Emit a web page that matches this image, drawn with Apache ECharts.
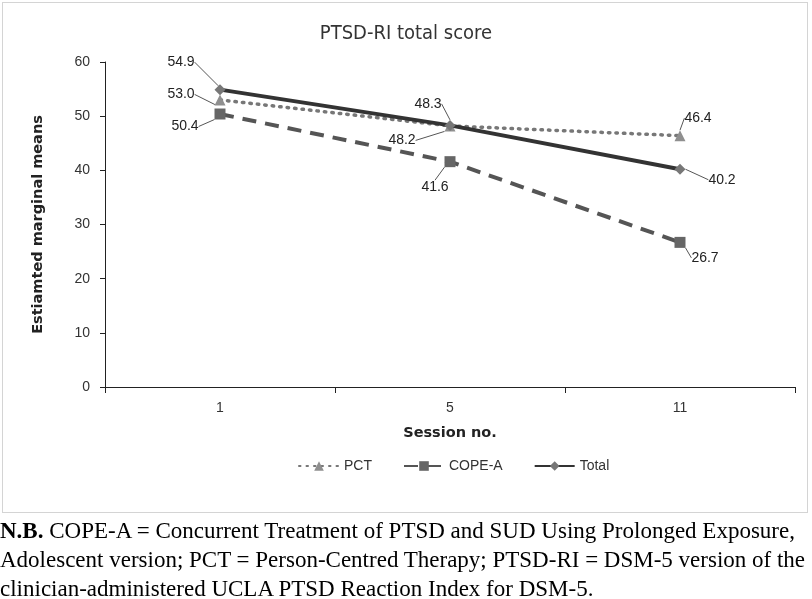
<!DOCTYPE html>
<html>
<head>
<meta charset="utf-8">
<script src="https://cdn.jsdelivr.net/npm/echarts@6/dist/echarts.min.js"></script>
<style>
  body { margin: 0; background: #fff; }
  #frame { position: absolute; left: 2px; top: 2px; width: 806px; height: 511px; border: 1px solid #d4d4d4; box-sizing: border-box; }
  #chart { position: absolute; left: 0; top: 0; width: 812px; height: 520px; }
  #note { position: absolute; left: 0; top: 516px; width: 812px; font-family: "Liberation Serif", "Times New Roman", serif; font-size: 23px; line-height: 29px; color: #000; white-space: nowrap; }
</style>
</head>
<body>
<div id="frame"></div>
<div id="chart"></div>
<div id="note"><b>N.B.</b> COPE-A = Concurrent Treatment of PTSD and SUD Using Prolonged Exposure,<br>Adolescent version; PCT = Person-Centred Therapy; PTSD-RI = DSM-5 version of the<br>clinician-administered UCLA PTSD Reaction Index for DSM-5.</div>
<script>
// 基于准备好的dom，初始化echarts实例
var myChart = echarts.init(document.getElementById('chart'), null, {});

// 数据
let sessions = ['1', '5', '11'];
let pct = [53.0, 48.2, 46.4];
let copeA = [50.4, 41.6, 26.7];
let total = [54.9, 48.3, 40.2];

// 标签偏移 (相对默认 top 位置)
let pctOffset = [[-39, 12], [-48, 32], [18, 0]];
let copeOffset = [[-35, 30], [-15, 43], [25, 33]];
let totalOffset = [[-39, -10], [-22, -4], [42, 28]];

let sans = '"Liberation Sans", Arial, sans-serif';
let wide = '"DejaVu Sans", Verdana, sans-serif';

function labelOf() {
	return {
		show: true,
		position: 'top',
		formatter: function (p) { return p.value.toFixed(1); },
		color: '#222',
		fontSize: 14,
		fontFamily: sans
	};
}
function layoutOf(offsets) {
	return function (params) {
		let o = offsets[params.dataIndex];
		return { dx: o[0], dy: o[1] };
	};
}
let guide = { show: true, lineStyle: { color: '#555', width: 1 } };

option =
{
	animation: false,
	title:
	{
		text: 'PTSD-RI total score',
		left: 'center',
		top: 19,
		textStyle: { fontFamily: '"DejaVu Sans Condensed", ' + wide, fontSize: 20, fontWeight: 'normal', color: '#333' }
	},
	grid:
	{
		left: 105,
		top: 62,
		right: 17,
		bottom: 520 - 387
	},
	legend:
	{
		left: 293,
		top: 454,
		itemWidth: 40,
		itemHeight: 12,
		itemGap: 31,
		textStyle: { fontFamily: sans, fontSize: 14, color: '#333' },
		data: ['PCT', 'COPE-A', 'Total']
	},
	xAxis:
	{
		type: 'category',
		data: sessions,
		boundaryGap: true,
		name: 'Session no.',
		nameLocation: 'middle',
		nameGap: 39,
		nameTextStyle: { fontFamily: wide, fontSize: 14.5, fontWeight: 'bold', color: '#222' },
		axisLine: { lineStyle: { color: '#222', width: 1 } },
		axisTick: { show: true, length: 6, lineStyle: { color: '#222' } },
		axisLabel: { fontFamily: sans, fontSize: 14, color: '#333', margin: 14 }
	},
	yAxis:
	{
		type: 'value',
		min: 0,
		max: 60,
		interval: 10,
		name: 'Estiamted marginal means',
		nameLocation: 'middle',
		nameGap: 59,
		nameTextStyle: { fontFamily: wide, fontSize: 14.5, fontWeight: 'bold', color: '#222' },
		splitLine: { show: false },
		axisLine: { show: true, lineStyle: { color: '#222', width: 1 } },
		axisTick: { show: true, length: 5, lineStyle: { color: '#222' } },
		axisLabel: { fontFamily: sans, fontSize: 14, color: '#333', margin: 15 }
	},
	series:
		[
			{
				name: 'PCT',
				type: 'line',
				data: pct,
				symbol: 'triangle',
				symbolSize: 11,
				z: 3,
				lineStyle: { color: '#777', width: 3.5, type: [1.5, 6], cap: 'round' },
				itemStyle: { color: '#8f8f8f' },
				label: labelOf(),
				labelLayout: layoutOf(pctOffset),
				labelLine: guide
			},
			{
				name: 'COPE-A',
				type: 'line',
				data: copeA,
				symbol: 'rect',
				symbolSize: 11,
				z: 2,
				lineStyle: { color: '#555', width: 4, type: [14, 9] },
				itemStyle: { color: '#666' },
				label: labelOf(),
				labelLayout: layoutOf(copeOffset),
				labelLine: guide
			},
			{
				name: 'Total',
				type: 'line',
				data: total,
				symbol: 'diamond',
				symbolSize: 11,
				z: 4,
				lineStyle: { color: '#333', width: 4 },
				itemStyle: { color: '#777' },
				label: labelOf(),
				labelLayout: layoutOf(totalOffset),
				labelLine: guide
			}
		]
};

// 使用刚指定的配置项和数据显示图表。
myChart.setOption(option);
</script>
</body>
</html>
